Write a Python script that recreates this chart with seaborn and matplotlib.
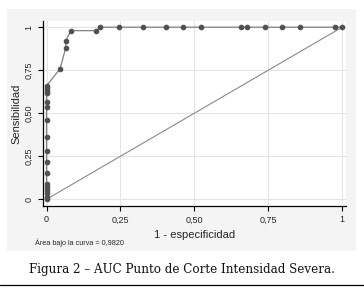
import matplotlib
matplotlib.use("Agg")
import matplotlib.pyplot as plt
import seaborn as sns
import pandas as pd
from matplotlib.patches import Rectangle
from matplotlib.lines import Line2D

# ROC points (1 - specificity, sensitivity)
fpr = [0, 0, 0, 0, 0, 0, 0, 0, 0, 0, 0, 0, 0, 0, 0, 0, 0,
       0.046, 0.065, 0.065, 0.083, 0.166, 0.182, 0.244, 0.325, 0.403,
       0.462, 0.522, 0.659, 0.678, 0.738, 0.798, 0.856, 0.975, 1.0]
sens = [0, 0.013, 0.037, 0.054, 0.073, 0.091, 0.155, 0.219, 0.283, 0.360,
        0.459, 0.537, 0.564, 0.616, 0.631, 0.645, 0.659,
        0.759, 0.881, 0.922, 0.980, 0.980, 1, 1, 1, 1,
        1, 1, 1, 1, 1, 1, 1, 1, 1.0]
ref_x = [0, 1]
ref_y = [0, 1]
tick_vals = [0, 0.25, 0.5, 0.75, 1]
tick_labels = ["0", "0,25", "0,50", "0,75", "1"]
auc_text = "Área bajo la curva = 0,9820"
caption = "Figura 2 – AUC Punto de Corte Intensidad Severa."

sns.set_style("white")
plt.rcParams['font.family'] = ['Liberation Sans', 'DejaVu Sans']

fig = plt.figure(figsize=(3.64, 2.92), dpi=100)
fig.patch.set_facecolor("white")

# gray graph region
fig.patches.append(Rectangle((0.0206, 0.1404), 0.957, 0.8288, transform=fig.transFigure,
                             facecolor="#f4f4f4", edgecolor="none", zorder=-5))

ax = fig.add_axes([0.1173, 0.2935, 0.8332, 0.6357])
ax.set_zorder(2)
ax.set_facecolor("white")

df = pd.DataFrame({"fpr": fpr, "sens": sens})
ax.plot(ref_x, ref_y, color="#8a8a8a", lw=0.8, zorder=2)
sns.lineplot(data=df, x="fpr", y="sens", sort=False, estimator=None, ax=ax,
             color="#808080", lw=0.9, marker="o", markersize=3.3,
             markerfacecolor="#505050", markeredgecolor="#505050", zorder=3)

ax.set_xlim(-0.013, 1.013)
ax.set_ylim(-0.041, 1.038)
ax.set_xticks(tick_vals)
ax.set_xticklabels(tick_labels, fontsize=6.5)
ax.set_yticks(tick_vals)
ax.set_yticklabels(tick_labels, fontsize=6.5, rotation=90, va="center")
ax.grid(True, color="#e4e4e4", lw=0.8)
ax.set_axisbelow(True)
for s in ["top", "right"]:
    ax.spines[s].set_visible(False)
for s in ["left", "bottom"]:
    ax.spines[s].set_color("black")
    ax.spines[s].set_linewidth(0.9)
ax.tick_params(axis="both", direction="out", length=3.5, width=0.8, color="black",
               pad=3, bottom=True, left=True)
ax.set_xlabel("1 - especificidad", fontsize=8, labelpad=4)
ax.set_ylabel("Sensibilidad", fontsize=8, labelpad=2)

fig.text(35 / 364, 1 - 243 / 292, auc_text, fontsize=5.2, va="center", ha="left", zorder=3)
fig.text(0.5, 1 - 270 / 292, caption, fontsize=8.6, ha="center", va="center",
         family=["DejaVu Serif"], color="#111111")
fig.add_artist(Line2D([0, 1], [1 - 285 / 292] * 2, transform=fig.transFigure,
                      color="black", lw=0.9))

fig.savefig("out.png", dpi=100)
